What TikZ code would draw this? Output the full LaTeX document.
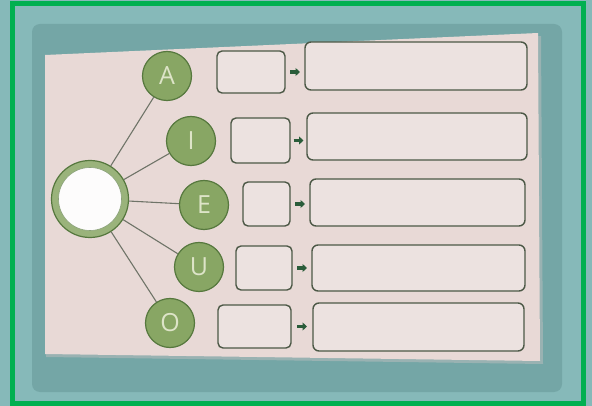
\documentclass[tikz,border=0pt]{standalone}
\usepackage{fontspec}
\setmainfont{Open Sans}
\usetikzlibrary{arrows.meta,calc}
\definecolor{frameg}{HTML}{00B050}
\definecolor{tealbg}{HTML}{86B9B9}
\definecolor{tealpanel}{HTML}{74A6A6}
\definecolor{card}{HTML}{E8D9D6}
\definecolor{boxfill}{HTML}{ECE2E0}
\definecolor{boxline}{HTML}{4C5846}
\definecolor{leaf}{HTML}{88A664}
\definecolor{leafdark}{HTML}{56783E}
\definecolor{letter}{HTML}{DDE4C8}
\definecolor{spoke}{HTML}{6F7468}
\definecolor{arrowg}{HTML}{2A5C3A}
\tikzset{
  vowel/.style={circle, draw=leafdark, line width=1.2pt, fill=leaf, minimum size=49pt, inner sep=0pt,
    text=letter, font=\fontsize{25}{25}\selectfont},
  smallbox/.style={draw=boxline, line width=1.4pt, fill=boxfill, rounded corners=5pt, inner sep=0pt},
  bigbox/.style={draw=boxline, line width=1.4pt, fill=boxfill, rounded corners=6pt, inner sep=0pt},
  spokeline/.style={draw=spoke, line width=1.1pt},
  pointer/.style={draw=arrowg, line width=3.4pt, -{Triangle[length=4.5pt,width=8pt]}}
}
\begin{document}
\begin{tikzpicture}[x=1pt,y=-1pt]
\useasboundingbox (0,0) rectangle (592,406);
% background
\fill[tealbg] (0,0) rectangle (592,406);
\fill[tealpanel, rounded corners=8pt] (32,24) rectangle (562,392);
% card shadow and card
\fill[black!25, opacity=0.5] (46,58) -- (541,36) -- (543,364) -- (46,357) -- cycle;
\fill[card] (45,55) -- (538,33) -- (540,361) -- (45,354) -- cycle;
% frame
\draw[frameg, line width=5pt] (12.5,3.5) rectangle (583.5,403);

% hub
\node[circle, draw=leafdark, line width=1.2pt, fill=leaf!85, minimum size=77pt, inner sep=0pt] (hub) at (90,199) {};
\node[circle, draw=leafdark!70, line width=0.6pt, fill=white!92!card, minimum size=63pt, inner sep=0pt] (hubin) at (90,199) {};

% vowels
\node[vowel] (A) at (167,76) {A};
\node[vowel] (I) at (191,141) {I};
\node[vowel] (E) at (204,205) {E};
\node[vowel] (U) at (199,267) {U};
\node[vowel] (O) at (170,323) {O};

\foreach \v in {A,I,E,U,O} {
  \draw[spokeline] (hub) -- (\v);
}

% boxes
\node[smallbox, minimum width=68pt, minimum height=42pt] (sA) at (251,72) {};
\node[bigbox, minimum width=222pt, minimum height=48pt] (bA) at (416,66) {};
\node[smallbox, minimum width=59pt, minimum height=45pt] (sI) at (260.5,140.5) {};
\node[bigbox, minimum width=220pt, minimum height=47pt] (bI) at (417,136.5) {};
\node[smallbox, minimum width=47pt, minimum height=44pt] (sE) at (266.5,204) {};
\node[bigbox, minimum width=215pt, minimum height=47pt] (bE) at (417.5,202.5) {};
\node[smallbox, minimum width=56pt, minimum height=44pt] (sU) at (264,268) {};
\node[bigbox, minimum width=213pt, minimum height=46pt] (bU) at (418.5,268) {};
\node[smallbox, minimum width=73pt, minimum height=43pt] (sO) at (254.5,326.5) {};
\node[bigbox, minimum width=211pt, minimum height=48pt] (bO) at (418.5,327) {};

\foreach \v in {A,I,E,U,O} {
  \coordinate (m\v) at ($(s\v.east)!0.5!(s\v.east -| b\v.west)$);
  \coordinate (p\v) at ($(m\v)+(-5,0)$);
  \coordinate (q\v) at ($(m\v)+(5,0)$);
  \draw[pointer] (p\v) -- (q\v);
}
\end{tikzpicture}
\end{document}
